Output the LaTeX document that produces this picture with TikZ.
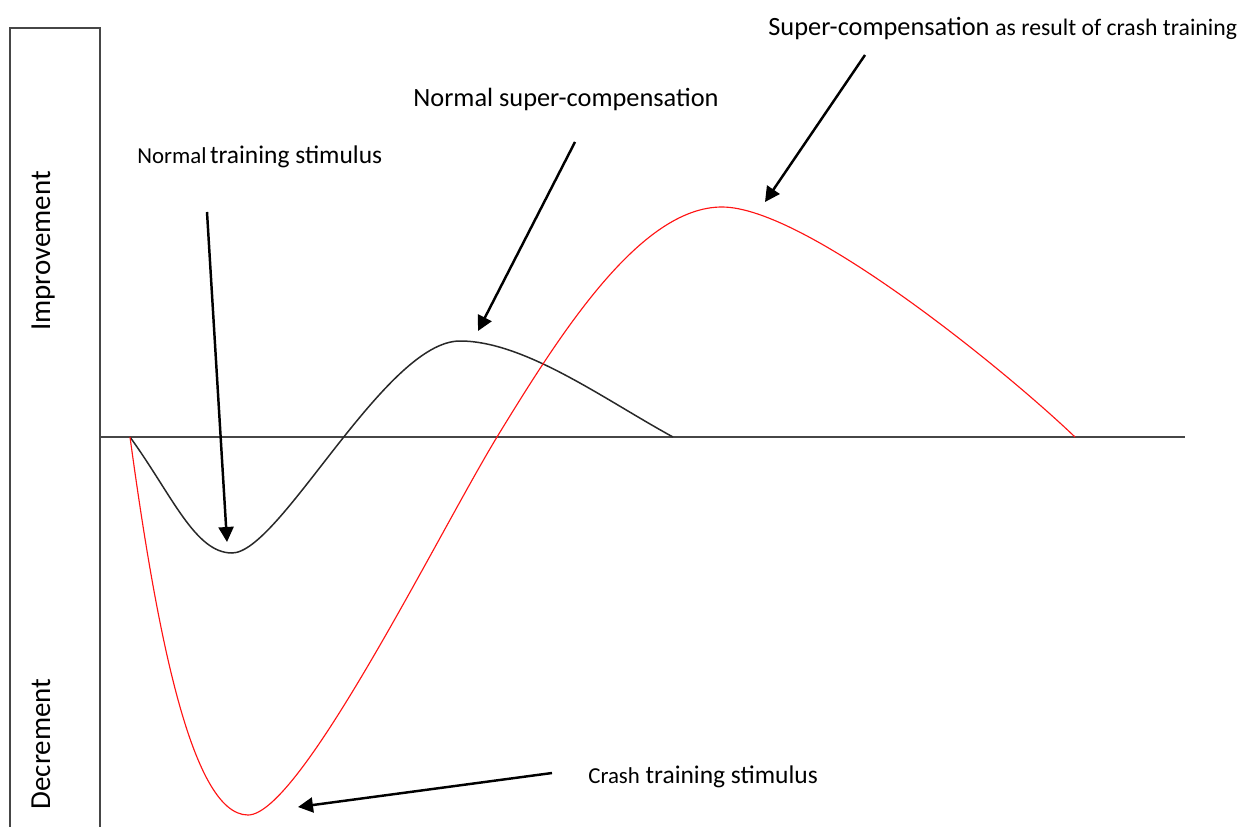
\documentclass[tikz,border=0pt]{standalone}
\usepackage{fontspec}
\setmainfont{Carlito}
\usetikzlibrary{arrows.meta}
\definecolor{axisgray}{RGB}{70,70,70}
\definecolor{curvegray}{RGB}{40,40,40}
\definecolor{crashred}{RGB}{255,20,20}

\begin{document}
\begin{tikzpicture}[
    x=0.02cm, y=-0.02cm,
    lbl/.style={inner sep=0pt, anchor=base west, font=\fontsize{14.5}{16}\selectfont},
    side/.style={inner sep=0pt, anchor=base, rotate=90, font=\fontsize{16.5}{19}\selectfont},
    arrow/.style={-{Triangle[length=3mm, width=3mm]}, line width=1.4pt, black},
    frame/.style={line width=1.1pt, axisgray}
  ]
    \useasboundingbox (0,0) rectangle (1243,827);

    % side panel and zero line
    \draw[frame] (10,830) -- (10,28) -- (100,28) -- (100,830);
    \draw[frame] (100,437) -- (1185,437);
    \node[side] (improve) at (50,251) {Improvement};
    \node[side] (decrement) at (50,744) {Decrement};

    % normal training curve
    \draw[line width=0.85pt, curvegray] (130,437)
      .. controls (172,495) and (195,553) .. (232,553)
      .. controls (280,553) and (385,341) .. (460,341)
      .. controls (525,341) and (605,400) .. (673,437);

    % crash training curve
    \draw[line width=0.65pt, crashred] (130,437)
      .. controls (155,620) and (190,815) .. (248,815)
      .. controls (300,815) and (437,536) .. (497,437)
      .. controls (560,334) and (640,207) .. (722,207)
      .. controls (805,207) and (1005,370) .. (1075,437);

    % labels
    \node[lbl] (normstim) at (137,164) {{\fontsize{13}{15}\selectfont Normal}\hspace{2pt}training stimulus};
    \node[lbl, font=\fontsize{15}{17}\selectfont] (normsuper) at (413,107) {Normal super-compensation};
    \node[lbl] (crashsuper) at (768,36) {{\fontsize{15}{17}\selectfont Super-compensation} {\fontsize{13.5}{15}\selectfont as result of crash training}};
    \node[lbl] (crashstim) at (588,783) {{\fontsize{13}{15}\selectfont Crash} training stimulus};

    % arrow ends
    \coordinate (normstimtail) at (207,212);
    \coordinate (normstimtip) at (227,542);
    \coordinate (normsupertail) at (575,142);
    \coordinate (normsupertip) at (478,331);
    \coordinate (crashsupertail) at (865,55);
    \coordinate (crashsupertip) at (765,202);
    \coordinate (crashstimtail) at (552,773);
    \coordinate (crashstimtip) at (298,807);

    \draw[arrow] (normstimtail) -- (normstimtip);
    \draw[arrow] (normsupertail) -- (normsupertip);
    \draw[arrow] (crashsupertail) -- (crashsupertip);
    \draw[arrow] (crashstimtail) -- (crashstimtip);
  \end{tikzpicture}
\end{document}
